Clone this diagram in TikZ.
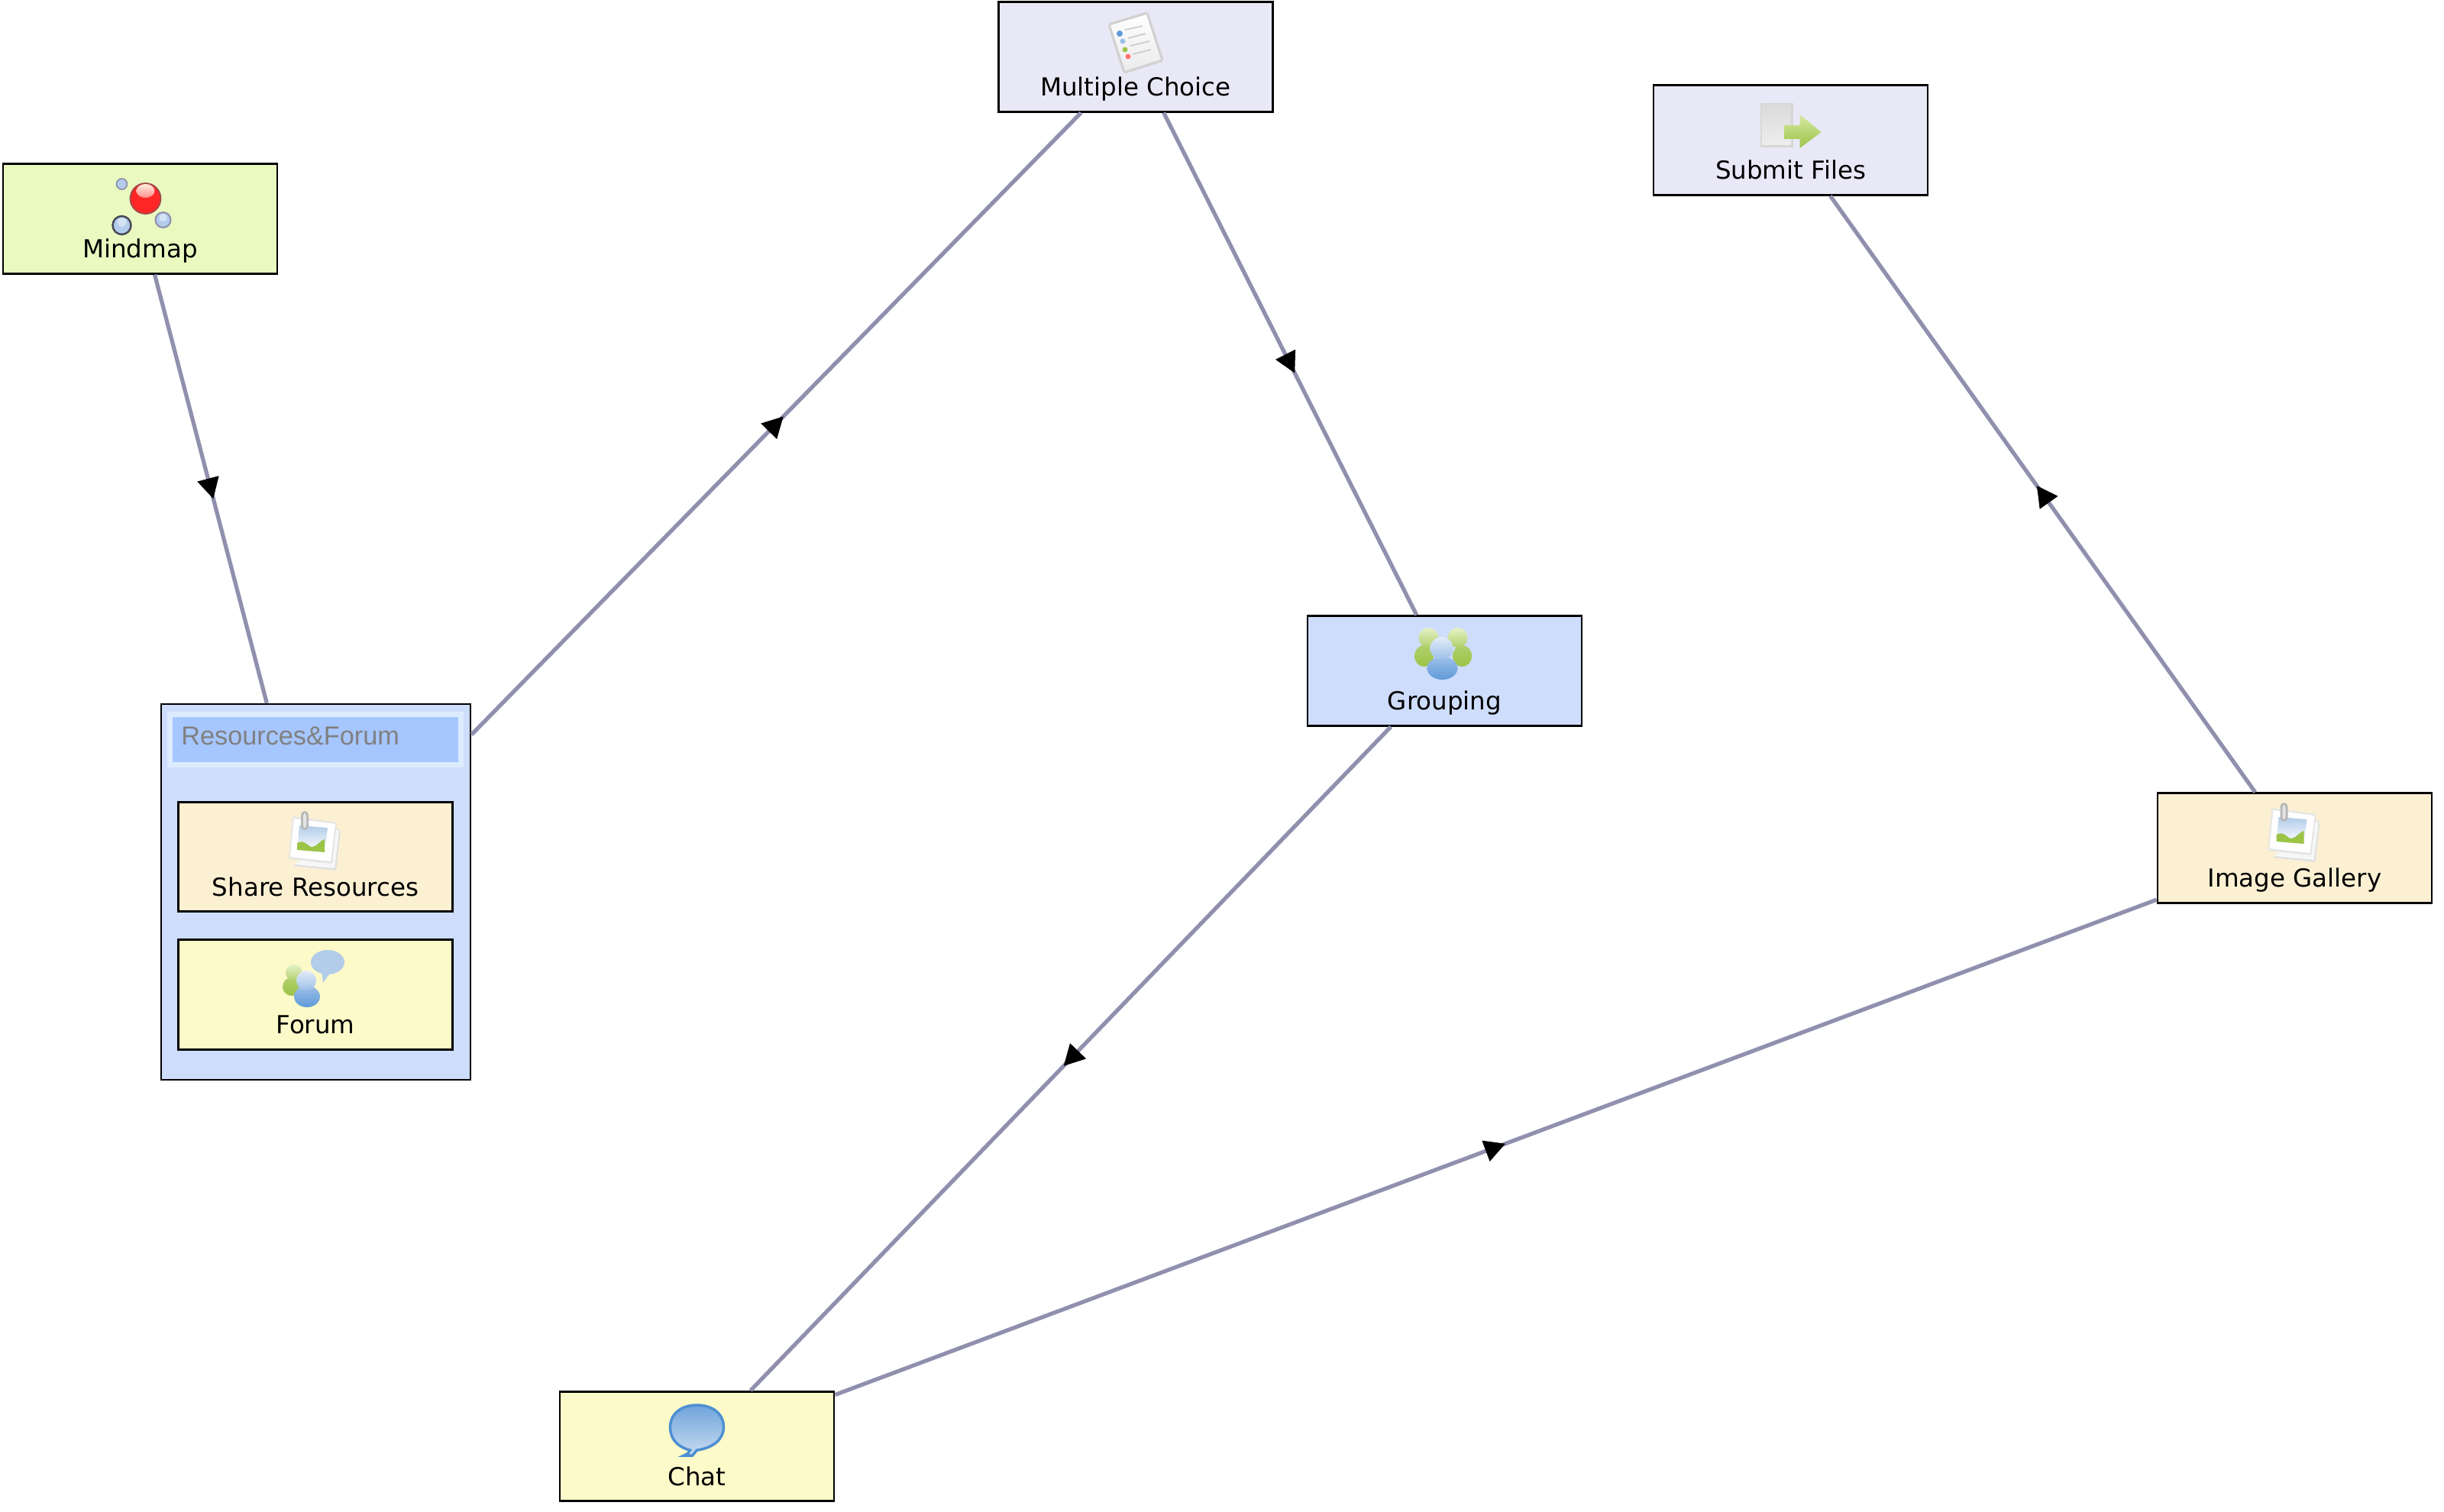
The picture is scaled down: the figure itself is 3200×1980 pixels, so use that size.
\documentclass[tikz,border=0pt]{standalone}
\usepackage{fontspec}
\setmainfont{DejaVu Sans}
\newfontfamily\titlefont{Liberation Sans}
\usetikzlibrary{arrows.meta,decorations.markings}
\definecolor{cgreen}{HTML}{E9F9C0}
\definecolor{clilac}{HTML}{E9E8F6}
\definecolor{cblue}{HTML}{CEDDFC}
\definecolor{ccream}{HTML}{FBF0D2}
\definecolor{cyellow}{HTML}{FDFAC9}
\definecolor{cline}{HTML}{9090AE}
\definecolor{ctitle}{HTML}{A6C6FF}
\definecolor{ctitleedge}{HTML}{DDEBFF}
\definecolor{igreen}{HTML}{9CC447}
\definecolor{igreenlt}{HTML}{D6E8A2}
\definecolor{iblue}{HTML}{5F9AD8}
\definecolor{ibluemid}{HTML}{9DBFE8}
\definecolor{ibluelt}{HTML}{E3ECF8}
\definecolor{ibubble}{HTML}{B2CCEA}
\definecolor{iedge}{HTML}{4E90D2}
\tikzset{
  x=0.02cm,y=-0.02cm,
  actbox/.style={draw=black,line width=1.6pt,inner sep=0pt,minimum width=7.18cm,
    text height=2.46cm,text depth=0.41cm,align=center,font=\fontsize{18.5}{20}\selectfont},
  groupbox/.style={draw=black,line width=1.6pt,inner sep=0pt,minimum width=8.1cm,minimum height=9.84cm},
  conn/.style={draw=cline,line width=3pt,postaction={decorate},
    decoration={markings,mark=at position 0.5 with {\arrow[xshift=7.8pt,black]{Triangle[length=15.6pt,width=15.8pt]}}}},
  galleryicon/.pic={
    \fill[black!12,rounded corners=1pt] (29,34)--(33,38)--(27,90)--(-29,84)--cycle;
    \fill[black!3] (28,36)--(31,38)--(25,87)--(-27,82)--cycle;
    \fill[black!10,rounded corners=1pt] (-30,19)--(28,27)--(22,81)--(-35,75)--cycle;
    \fill[white] (-28,22)--(26,29)--(20,78)--(-33,72)--cycle;
    \shade[top color=ibubble,bottom color=white] (-21,31)--(16,34)--(12,66)--(-24,63)--cycle;
    \fill[igreen] (-24,54) .. controls (-14,48) and (-9,60) .. (-4,59) .. controls (2,58) and (7,50) .. (12,49) -- (12,66) -- (-24,63) -- cycle;
    \fill[black!28,rounded corners=3pt] (-19,12) rectangle (-9,37);
    \fill[black!10,rounded corners=2pt] (-16,15) rectangle (-12,34);
  }
}
\begin{document}
\begin{tikzpicture}
\useasboundingbox (0,0) rectangle (3200,1980);
% activity boxes
\node[actbox,fill=cgreen]  (mindmap)  at (183.5,286.5) {Mindmap};
\node[groupbox,fill=cblue] (resforum) at (413.5,1168) {};
\node[actbox,fill=clilac]  (multiple) at (1487,74.5) {Multiple Choice};
\node[actbox,fill=clilac]  (submit)   at (2344.5,183.5) {Submit Files};
\node[actbox,fill=cblue]   (grouping) at (1891.5,878.5) {Grouping};
\node[actbox,fill=ccream]  (gallery)  at (3004.5,1110.5) {Image Gallery};
\node[actbox,fill=cyellow] (chat)     at (912.5,1894) {Chat};
% group header and children
\node[fill=ctitle,draw=ctitleedge,line width=4pt,inner sep=0pt,minimum width=7.62cm,minimum height=1.32cm] (restitle) at (413,968.5) {};
\node[anchor=base west,inner sep=0pt,text=black!50,font=\titlefont\fontsize{19.5}{22}\selectfont] (restitletext) at (237,975) {Resources\&Forum};
\node[actbox,fill=ccream]  (share) at (413,1122) {Share Resources};
\node[actbox,fill=cyellow] (forum) at (413,1302.5) {Forum};
% connectors
\draw[conn] (mindmap)  -- (resforum);
\draw[conn] (resforum) -- (multiple);
\draw[conn] (multiple) -- (grouping);
\draw[conn] (grouping) -- (chat);
\draw[conn] (chat)     -- (gallery);
\draw[conn] (gallery)  -- (submit);
% icons
\pic at (413,1050) {galleryicon};
\pic at (3004.5,1039) {galleryicon};
% mindmap icon
\begin{scope}[shift={(183.5,215)}]
  \fill[ibubble,draw=cline,line width=1pt] (-24,26) circle[radius=7];
  \fill[ibubble,draw=black!50!cline,line width=1.4pt] (-24,80) circle[radius=12];
  \fill[ibubble,draw=cline,line width=1.2pt] (30,73) circle[radius=10];
  \fill[white,opacity=.45] (-24,76) circle[radius=6];
  \fill[white,opacity=.45] (30,70) circle[radius=5];
  \fill[red!85!white,draw=red!45!black!70!white,line width=1pt] (7,45) circle[radius=20];
  \shade[top color=orange!12!white,bottom color=red!45!white] (7,35) ellipse[x radius=12,y radius=9];
\end{scope}
% multiple choice icon
\begin{scope}[shift={(1487,3)}]
  \shade[top color=white,bottom color=black!8,draw=black!18,line width=1.8pt,rounded corners=1pt]
    (-35,29)--(15,14)--(35,76)--(-15,92)--cycle;
  \draw[black!20,line width=1pt] (-14,36)--(9,31) (-10,47)--(13,41) (-7,57)--(18,51) (-4,68)--(20,62);
  \fill[iblue] (-21,41) circle[radius=4];
  \fill[ibluemid] (-17,51) circle[radius=3.5];
  \fill[igreen] (-14,62) circle[radius=3.5];
  \fill[red!55!white] (-10,71) circle[radius=3.5];
\end{scope}
% submit files icon
\begin{scope}[shift={(2344.5,112)}]
  \fill[black!16] (-40,23) rectangle (3,81);
  \shade[top color=black!14,bottom color=black!7] (-37,26) rectangle (0,78);
  \shade[top color=igreenlt,bottom color=igreen]
    (-8,52)--(12,52)--(12,38)--(40,61)--(12,82)--(12,70)--(-8,70)--cycle;
\end{scope}
% grouping icon
\begin{scope}[shift={(1891.5,807)}]
  \shade[top color=igreen!80!white,bottom color=igreen] (-27,52) ellipse[x radius=12.5,y radius=14];
  \shade[top color=igreen!80!white,bottom color=igreen] (23,52) ellipse[x radius=12.5,y radius=14];
  \shade[top color=igreenlt!60!white,bottom color=igreen!80!white] (-21,28) ellipse[x radius=13,y radius=13];
  \shade[top color=igreenlt!60!white,bottom color=igreen!80!white] (17,28) ellipse[x radius=13,y radius=13];
  \shade[top color=ibluemid,bottom color=iblue] (-3,68) ellipse[x radius=20,y radius=15];
  \shade[top color=ibluelt,bottom color=ibluemid] (-4,42) ellipse[x radius=15,y radius=15];
\end{scope}
% forum icon
\begin{scope}[shift={(413,1231)}]
  \fill[ibubble] (16,29) ellipse[x radius=22,y radius=16];
  \fill[ibubble] (8,40)--(10,56)--(20,42)--cycle;
  \shade[top color=igreen!80!white,bottom color=igreen] (-31,61) ellipse[x radius=12,y radius=12];
  \shade[top color=igreenlt!60!white,bottom color=igreen!80!white] (-28,43) ellipse[x radius=11,y radius=11];
  \shade[top color=ibluemid,bottom color=iblue] (-11,74) ellipse[x radius=17,y radius=14];
  \shade[top color=ibluelt,bottom color=ibluemid] (-12,53) ellipse[x radius=13,y radius=13];
\end{scope}
% chat icon
\begin{scope}[shift={(912.5,1822)}]
  \shade[top color=iblue!90!white,bottom color=ibubble!70!white,draw=iedge,line width=2pt]
    (-9,77) .. controls (-28,72) and (-35,60) .. (-35,47)
    .. controls (-35,29) and (-20,18) .. (0,18)
    .. controls (20,18) and (35,29) .. (35,47)
    .. controls (35,62) and (22,74) .. (0,77)
    -- (-6,84) -- (-17,84) .. controls (-12,82) and (-10,80) .. cycle;
\end{scope}
\end{tikzpicture}
\end{document}
